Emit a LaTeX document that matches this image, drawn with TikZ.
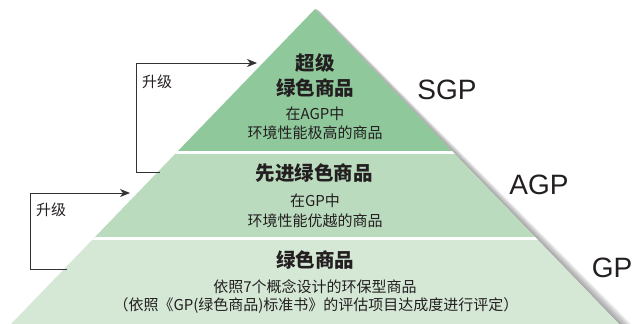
\documentclass[tikz,border=0pt]{standalone}
\usepackage{fontspec}
\setmainfont{Liberation Sans}
\newfontfamily\cjk{Noto Sans CJK SC}
\usetikzlibrary{arrows.meta}
\definecolor{tierA}{HTML}{8FC89B}
\definecolor{tierB}{HTML}{BADBBE}
\definecolor{tierC}{HTML}{D5E8D6}
\definecolor{ink}{HTML}{231F20}
\definecolor{wire}{HTML}{333333}
\tikzset{
  title/.style={text=ink, inner sep=0pt, font=\cjk\bfseries\fontsize{19.5}{20}\selectfont},
  sub/.style={text=ink, inner sep=0pt, font=\cjk\fontsize{15}{16}\selectfont},
  lvl/.style={text=ink, inner sep=0pt, font=\fontsize{28}{30}\selectfont},
  wirestyle/.style={draw=wire, line width=1pt},
  upgrade/.style={wirestyle, -{Stealth[length=10pt,width=8pt,inset=3pt]}}
}
\begin{document}
\begin{tikzpicture}[x=1pt,y=-1pt]
\useasboundingbox (0,0) rectangle (635,324);
% shadow along right edge
\foreach \i in {1,...,7} {
  \fill[black!60, opacity=0.11] (315,9) -- ({315+0.7*\i},{9+0.3*\i}) -- ({633.5+1.8*\i},339) -- (633.5,339) -- cycle;
}
% pyramid
\begin{scope}
  \clip (315,9) -- (633.45,339) -- (-3.45,339) -- cycle;
  \fill[tierA] (0,0) rectangle (635,152.3);
  \fill[tierB] (0,152.3) rectangle (635,238.3);
  \fill[tierC] (0,238.3) rectangle (635,340);
  \draw[white, line width=2.4pt] (0,152.3) -- (635,152.3);
  \draw[white, line width=2.4pt] (0,238.3) -- (635,238.3);
\end{scope}
% texts
\node[title] (t1a) at (315,63) {超级};
\node[title] (t1b) at (315,88) {绿色商品};
\node[sub] (t1c) at (315,114) {在AGP中};
\node[sub] (t1d) at (315,133) {环境性能极高的商品};
\node[title] (t2a) at (314,173) {先进绿色商品};
\node[sub] (t2b) at (315,201) {在GP中};
\node[sub] (t2c) at (315,221) {环境性能优越的商品};
\node[title] (t3a) at (315,260) {绿色商品};
\node[sub] (t3b) at (315,287) {依照7个概念设计的环保型商品};
\node[sub] (t3c) at (316,306) {（依照《GP(绿色商品)标准书》的评估项目达成度进行评定）};
% level labels
\node[lvl] (sgp) at (447,90) {SGP};
\node[lvl] (agp) at (539,185) {AGP};
\node[lvl] (gp) at (612,268) {GP};
% upgrade arrows
\coordinate (ua) at (160,172);
\coordinate (ub) at (136,172);
\coordinate (uc) at (136,63);
\coordinate (ud) at (257,63);
\draw[upgrade] (ua) -- (ub) -- (uc) -- (ud);
\node[sub] (ul) at (157,82) {升级};
\coordinate (la) at (67,269);
\coordinate (lb) at (30.5,269);
\coordinate (lc) at (30.5,193);
\coordinate (ld) at (130,193);
\draw[upgrade] (la) -- (lb) -- (lc) -- (ld);
\node[sub] (ll) at (51,210) {升级};
\end{tikzpicture}
\end{document}
